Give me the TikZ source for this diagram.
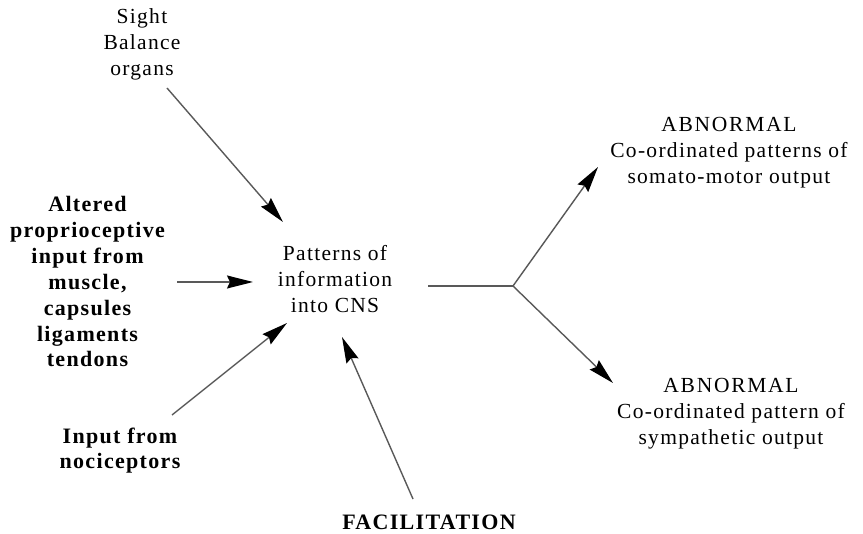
\documentclass[tikz,border=0pt]{standalone}
\usepackage{fontspec}
\setmainfont{Liberation Serif}
\newfontfamily\spaced[LetterSpace=6]{Liberation Serif}
\newfontfamily\capspaced[LetterSpace=8]{Liberation Serif}
\newfontfamily\boldspaced[LetterSpace=6]{Liberation Serif Bold}
\usetikzlibrary{arrows.meta}
\begin{document}
\begin{tikzpicture}[x=1pt,y=-1pt,
  label text/.style={inner sep=0pt, align=center, anchor=base,
    font=\spaced\fontsize{21.5}{26}\selectfont},
  bold text/.style={inner sep=0pt, align=center, anchor=base,
    font=\boldspaced\fontsize{22}{25.9}\selectfont},
  link/.style={draw=black!65, line width=1.4pt},
  flow/.style={link, -{Stealth[length=26pt,width=13pt,inset=3pt,color=black]}}]
\useasboundingbox (0,0) rectangle (863,534);

% text blocks, each placed by the baseline of its last line
\node[label text] (sight) at (142,76) {Sight\\Balance\\organs};
\node[bold text] (proprio) at (87.5,367) {Altered\\proprioceptive\\input from\\muscle,\\capsules\\ligaments\\tendons};
\node[bold text] (noci) at (120,469) {Input from\\nociceptors};
\node[label text] (cns) at (335,313) {Patterns of\\information\\into CNS};
\node[bold text] (facil) at (429,530) {FACILITATION};
\node[label text] (motor) at (729,184) {{\capspaced ABNORMAL}\\Co-ordinated patterns of\\somato-motor output};
\node[label text] (symp) at (731,445) {{\capspaced ABNORMAL}\\Co-ordinated pattern of\\sympathetic output};

% arrow end points
\coordinate (sightS) at (167,88);
\coordinate (sightT) at (283,222);
\coordinate (propS) at (177,282);
\coordinate (propT) at (253,282);
\coordinate (nociS) at (172,415);
\coordinate (nociT) at (287,323);
\coordinate (facS) at (413,499);
\coordinate (facT) at (342,337);
\coordinate (outS) at (428,286);
\coordinate (fork) at (513,286);
\coordinate (motorT) at (598,167);
\coordinate (sympT) at (613,383);

% inputs
\draw[flow] (sightS) -- (sightT);
\draw[flow] (propS) -- (propT);
\draw[flow] (nociS) -- (nociT);
\draw[flow] (facS) -- (facT);

% outputs
\draw[link] (outS) -- (fork);
\draw[flow] (fork) -- (motorT);
\draw[flow] (fork) -- (sympT);
\end{tikzpicture}
\end{document}
